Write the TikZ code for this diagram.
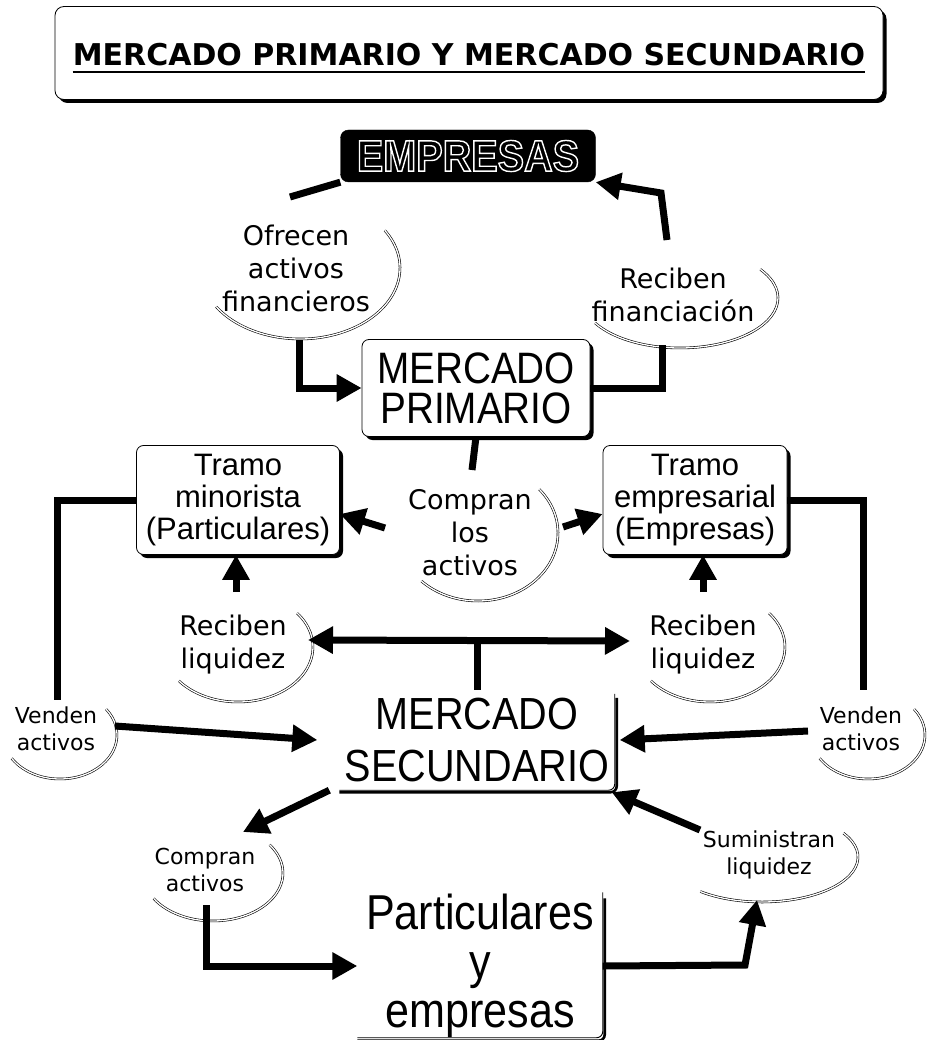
\documentclass[tikz,border=0pt]{standalone}
\usepackage{fontspec}
\setmainfont{DejaVu Sans}
\newfontfamily\arialn{Liberation Sans}[FakeStretch=0.88]
\newfontfamily\arial{Liberation Sans}
\newfontfamily\empfont{Liberation Sans}[FakeStretch=0.9]
\usetikzlibrary{shapes,arrows,positioning,shadows,calc,arrows.meta}

% white outline letters
\newcommand\hollow[1]{\special{pdf:literal 1 Tr 1.4 w}#1\special{pdf:literal 0 Tr 0.4 w}}

\begin{document}
\begin{tikzpicture}[x=1pt,y=1pt,
        box/.style={
                draw,
                line width=0.8pt,
                rounded corners=7pt,
                fill=white,
                align=center,
                inner sep=0pt,
                drop shadow={shadow xshift=3.5pt, shadow yshift=-3.5pt, opacity=1, fill=black},
        },
        empbox/.style={draw, fill=black, rounded corners=8pt, text=white, inner sep=0pt,
                font=\empfont\bfseries\fontsize{44}{44}\selectfont},
        lbl/.style={align=center, inner sep=0pt, font=\fontsize{27}{33}\selectfont},
        lblsmall/.style={lbl, font=\fontsize{22}{27}\selectfont},
        moon/.style={double, double distance=1.3pt, line width=0.6pt},
        link/.style={line width=7pt},
        flow/.style={link, -{Triangle[length=25pt,width=26pt]}},
        rim/.style={line width=0.9pt, rounded corners=6pt},
        rimshade/.style={line width=2.6pt, rounded corners=6pt},
    ]
    \useasboundingbox (0,0) rectangle (926,-1040);

    % title
    \node[box, minimum width=828pt, minimum height=93pt, rounded corners=9pt] (title) at (469,-53) {};
    \node[inner sep=0pt, font=\bfseries\fontsize{30}{36}\selectfont] (titletext) at ([yshift=-2pt]title.center) {MERCADO PRIMARIO Y MERCADO SECUNDARIO};
    \draw[line width=2.5pt] ([yshift=-6pt]titletext.base west) -- ([yshift=-6pt]titletext.base east);

    % boxes
    \node[empbox, minimum width=255pt, minimum height=52pt] (emp) at (468,-156) {\hollow{EMPRESAS}};
    \node[box, font=\arialn\fontsize{44}{40}\selectfont, minimum width=228pt, minimum height=97pt] (prim) at (476,-388) {MERCADO\\PRIMARIO};
    \node[box, font=\arial\fontsize{31}{32}\selectfont, minimum width=203pt, minimum height=109pt] (tmin) at (238,-500) {Tramo\\minorista\\(Particulares)};
    \node[box, font=\arial\fontsize{31}{32}\selectfont, minimum width=184pt, minimum height=109pt] (temp) at (695,-500) {Tramo\\empresarial\\(Empresas)};
    \node[align=center, inner sep=0pt, font=\arialn\fontsize{45}{52}\selectfont, minimum width=275pt, minimum height=100pt] (sec) at (477,-740) {MERCADO\\SECUNDARIO};
    \node[align=center, inner sep=0pt, font=\arialn\fontsize{49}{49}\selectfont, minimum width=245pt, minimum height=147pt] (part) at (480,-966) {Particulares\\y\\empresas};

    % open frames
    \draw[rimshade] ([xshift=2pt,yshift=-8pt]sec.north east) -- ([xshift=2pt,yshift=-2pt]sec.south east) -- ([yshift=-2pt]sec.south west);
    \draw[rim] ([yshift=-4pt]sec.north east) -- (sec.south east) -- (sec.south west);
    \draw[rimshade] ([xshift=2pt,yshift=-6pt]part.north east) -- ([xshift=2pt,yshift=-1pt]part.south east) -- ([yshift=-1pt]part.south west);
    \draw[rim] (part.north east) -- ([yshift=2pt]part.south east) -- ([yshift=2pt]part.south west);

    % labels
    \node[lbl] (ofr) at (296,-268) {Ofrecen\\activos\\financieros};
    \node[lbl] (rfin) at (673,-295) {Reciben\\financiación};
    \node[lbl] (comp) at (470,-533) {Compran\\los\\activos};
    \node[lbl] (rliql) at (233,-645) {Reciben\\liquidez};
    \node[lbl] (rliqr) at (703,-645) {Reciben\\liquidez};
    \node[lblsmall] (vendl) at (56,-729) {Venden\\activos};
    \node[lblsmall] (vendr) at (861,-729) {Venden\\activos};
    \node[lblsmall] (compa) at (205,-870) {Compran\\activos};
    \node[lblsmall] (sumi) at (769,-855) {Suministran\\liquidez};

    \foreach \n/\dx/\dy/\rx/\ry/\sa/\ea in {ofr/4/0/100/71/32/-147, rfin/7/-3/98/50/35/-150,
            comp/8/0/80/68/40/-135, rliql/5/-2/75/55/38/-142, rliqr/7/-2/75/55/38/-142,
            vendl/4/-6/57/44/36/-148, vendr/7/-6/57/44/36/-148, compa/8/-3/70/48/36/-148,
            sumi/-7/-2/96/45/32/-130}
        \draw[moon] (\n.center) ++(\dx,\dy) ++(\sa:{\rx} and {\ry}) arc[start angle=\sa, end angle=\ea, x radius=\rx, y radius=\ry];

    % free ends
    \coordinate (ofrtop) at (290,-197);
    \coordinate (ofrbot) at (299,-340);
    \coordinate (rfintop) at (667,-240);
    \coordinate (rfinbend) at (661,-193);
    \coordinate (rfinbot) at (662,-345);
    \coordinate (comptop) at (472,-470);
    \coordinate (compleft) at (385,-528);
    \coordinate (compright) at (563,-527);
    \coordinate (vendltop) at (57,-700);
    \coordinate (vendrtop) at (863,-690);
    \coordinate (rliqltop) at (236,-592);
    \coordinate (rliqrtop) at (703,-592);
    \coordinate (rliqlend) at (308,-640);
    \coordinate (rliqrend) at (630,-641);
    \coordinate (vendlend) at (115,-726);
    \coordinate (vendrend) at (808,-731);
    \coordinate (compatop) at (243,-832);
    \coordinate (compabot) at (206,-905);
    \coordinate (sumibend) at (745,-965);
    \coordinate (sumibot) at (757,-900);
    \coordinate (sumitop) at (700,-830);

    % connectors
    \draw[link] (ofrtop) -- (emp.south west);
    \draw[flow] (rfintop) -- (rfinbend) -- (emp.south east);
    \draw[flow] (ofrbot) |- (prim.west);
    \draw[link] (prim.east) -| (rfinbot);
    \draw[link] (prim.south) -- (comptop);
    \draw[flow] (compleft) -- ([yshift=-14pt]tmin.east);
    \draw[flow] (compright) -- ([yshift=-14pt]temp.west);
    \draw[link] (tmin.west) -| (vendltop);
    \draw[link] (temp.east) -| (vendrtop);
    \draw[flow] (rliqltop) -- (rliqltop |- tmin.south);
    \draw[flow] (rliqrtop) -- (rliqrtop |- temp.south);
    \draw[link, {Triangle[length=25pt,width=26pt]}-{Triangle[length=25pt,width=26pt]}] (rliqlend) -- (rliqrend);
    \draw[link] (sec.north) -- (sec.north |- rliqlend);
    \draw[flow] (vendlend) -- ([xshift=-22pt]sec.west);
    \draw[flow] (vendrend) -- ([xshift=5pt]sec.east);
    \draw[flow] ([xshift=-10pt]sec.south west) -- (compatop);
    \draw[flow] (compabot) |- (part.west);
    \draw[flow] (part.east) -- (sumibend) -- (sumibot);
    \draw[flow] (sumitop) -- ([xshift=-3pt,yshift=-2pt]sec.south east);
\end{tikzpicture}
\end{document}
